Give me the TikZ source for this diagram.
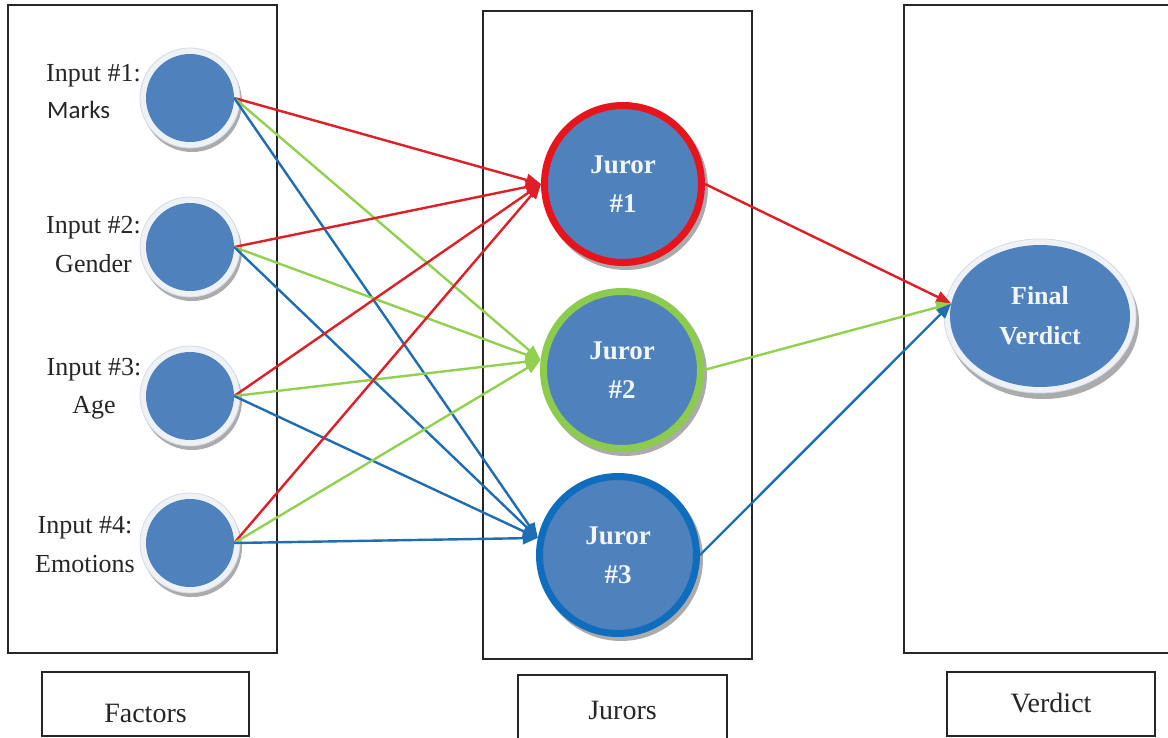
\documentclass[tikz,border=0pt]{standalone}
\usepackage{fontspec}
\setmainfont{Liberation Serif}
\newfontfamily\calib{Carlito}
\usetikzlibrary{arrows.meta,shapes.geometric}

\definecolor{nodeblue}{HTML}{4F81BD}
\definecolor{lineRed}{HTML}{DD1F27}
\definecolor{lineGreen}{HTML}{92D050}
\definecolor{lineBlue}{HTML}{1F6DB3}
\definecolor{ringRed}{HTML}{E8141C}
\definecolor{ringGreen}{HTML}{8CCB4E}
\definecolor{ringBlue}{HTML}{0F6DBE}
\definecolor{haloC}{HTML}{EEF2F7}
\definecolor{haloEdge}{HTML}{D3DBE4}
\definecolor{shadowC}{HTML}{ABABAB}
\definecolor{lighttext}{HTML}{F2F6FB}
\definecolor{frameC}{HTML}{262626}

\tikzset{
  frame/.style={draw=frameC, line width=1.3pt},
  labelbox/.style={draw=frameC, line width=1.8pt, inner sep=0pt,
    font=\fontsize{28}{30}\selectfont, text=black!85},
  inlabel/.style={font=\fontsize{26}{30}\selectfont, text=black!85, inner sep=0pt},
  inp/.style={circle, fill=nodeblue, minimum size=88pt, inner sep=0pt},
  juror/.style={circle, fill=nodeblue, line width=7pt, minimum size=157pt,
    inner sep=0pt, align=center, text=lighttext,
    font=\fontsize{27}{39}\selectfont\bfseries},
  verdictnode/.style={ellipse, fill=nodeblue, minimum width=180pt,
    minimum height=142pt, inner sep=0pt, align=center, text=lighttext,
    font=\fontsize{26}{40}\selectfont\bfseries},
  link/.style={line width=2.4pt, -{Triangle[length=15pt,width=12pt]}},
}

\begin{document}
\begin{tikzpicture}[x=1pt,y=-1pt]
  \useasboundingbox (0,0) rectangle (1168,737);
  \clip (0,0) rectangle (1168,737);
  \fill[white] (0,0) rectangle (1168,737);

  % column frames
  \draw[frame] (8,5) rectangle (277,653);
  \draw[frame] (483,11) rectangle (752,659);
  \draw[frame] (904,5) rectangle (1180,653);

  % column captions
  \node[labelbox, minimum width=207pt, minimum height=64pt, text height=36pt, text depth=0pt]
    (factors) at (145.5,704) {Factors};
  \node[labelbox, minimum width=209pt, minimum height=68pt, text height=20pt, text depth=0pt]
    (jurors) at (622.5,709) {Jurors};
  \node[labelbox, minimum width=208pt, minimum height=64pt, text height=16pt, text depth=0pt]
    (verdict) at (1051,704) {Verdict};

  % input circles with halo and shadow
  \foreach \n/\yy in {1/98, 2/247, 3/396, 4/543}{
    \fill[shadowC] (192,\yy+4) circle (50);
    \fill[haloC, draw=haloEdge, line width=0.8pt] (190,\yy) circle (50);
  }
  \node[inp] (i1) at (190,98) {};
  \node[inp] (i2) at (190,247) {};
  \node[inp] (i3) at (190,396) {};
  \node[inp] (i4) at (190,543) {};

  % input captions
  \node[inlabel, anchor=base west] (l1a) at (46,81) {Input \#1:};
  \node[inlabel, anchor=base west, font=\calib\fontsize{25}{30}\selectfont] (l1b) at (47,118) {Marks};
  \node[inlabel, anchor=base] (l2a) at (93.5,233) {Input \#2:};
  \node[inlabel, anchor=base] (l2b) at (93.5,272) {Gender};
  \node[inlabel, anchor=base] (l3a) at (94,375) {Input \#3:};
  \node[inlabel, anchor=base] (l3b) at (94,413) {Age};
  \node[inlabel, anchor=base] (l4a) at (85,533) {Input \#4:};
  \node[inlabel, anchor=base] (l4b) at (85,572) {Emotions};

  % juror circles
  \fill[shadowC] (626,188) circle (82);
  \fill[shadowC] (625,374) circle (82);
  \fill[shadowC] (621,559) circle (82);
  \node[juror, draw=ringRed]   (j1) at (623,184) {Juror\\\#1};
  \node[juror, draw=ringGreen] (j2) at (622,370) {Juror\\\#2};
  \node[juror, draw=ringBlue]  (j3) at (618,555) {Juror\\\#3};

  % final verdict
  \fill[shadowC] (1043,322) ellipse (96 and 77);
  \fill[haloC, draw=haloEdge, line width=0.8pt] (1040,316) ellipse (96 and 77);
  \node[verdictnode] (fv) at (1040,316) {Final\\Verdict};

  % every input feeds every juror
  \foreach \i in {1,2,3,4}{
    \draw[link, lineRed]   (i\i.east) -- (j1.west);
    \draw[link, lineGreen] (i\i.east) -- (j2.173);
    \draw[link, lineBlue]  (i\i.east) -- (j3.168);
  }

  % jurors feed the verdict
  \draw[link, lineRed]   (j1.east) -- (fv.172);
  \draw[link, lineGreen] (j2.east) -- (fv.172);
  \draw[link, lineBlue]  (j3.east) -- (fv.172);
\end{tikzpicture}
\end{document}
